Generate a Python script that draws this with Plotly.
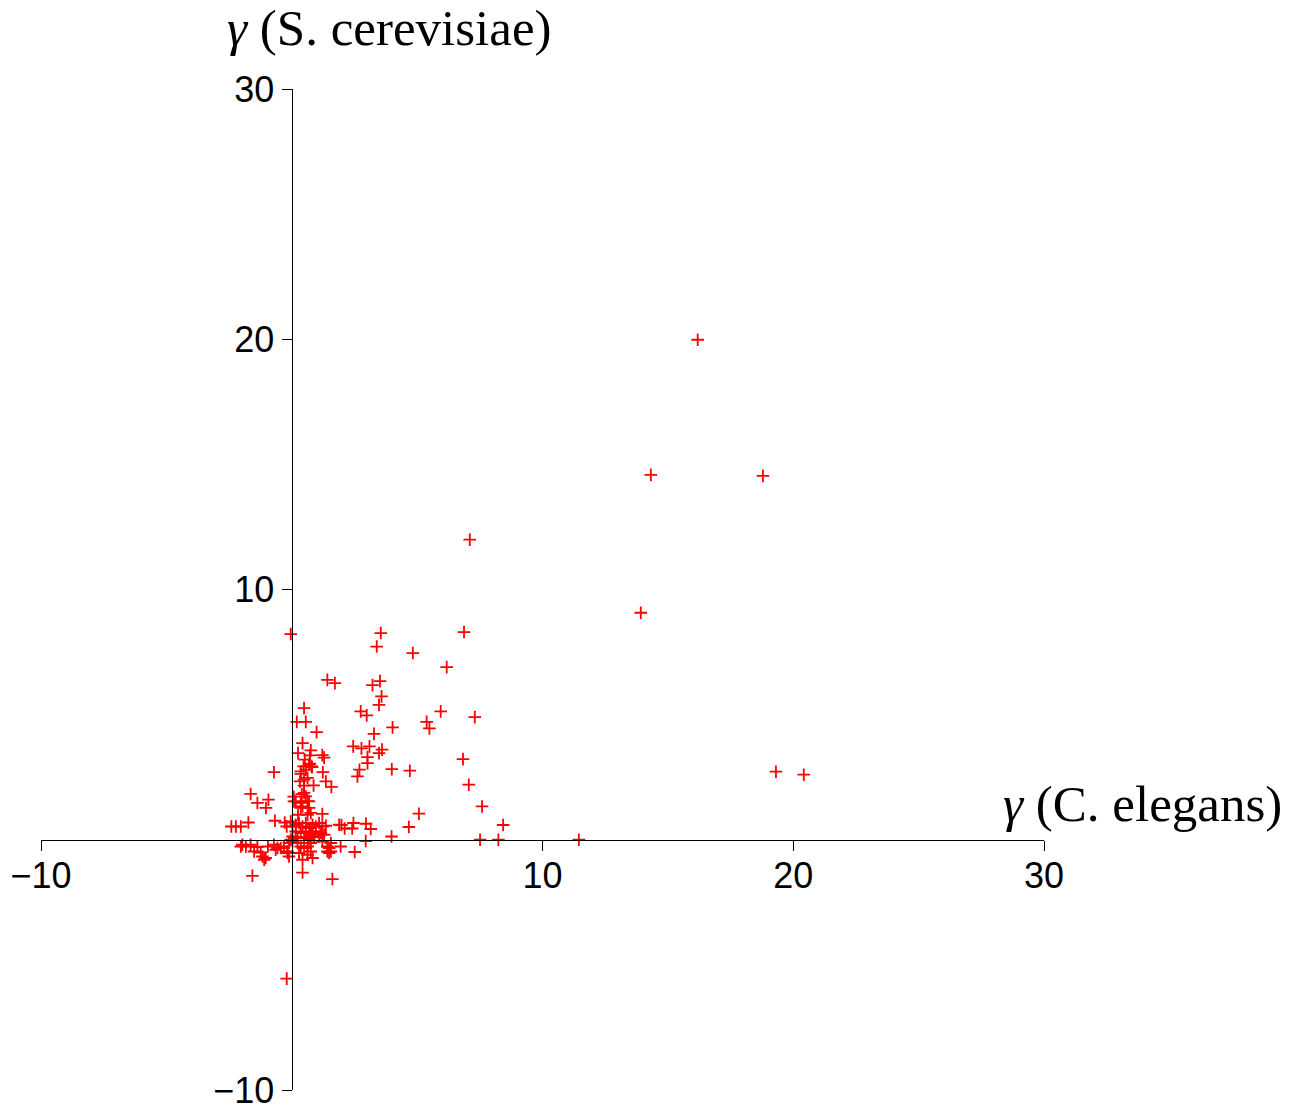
import plotly.graph_objects as go

# Per-gene gamma estimates: C. elegans (x) vs S. cerevisiae (y)
gamma_c_elegans = [
    16.19, 14.32, 18.79, 7.10, 13.92, 19.31, 20.42, 11.45, -0.04, -0.20,
    3.55, 6.87, 3.39, 4.83, 6.18, 1.72, 3.22, 3.52, 3.58, 3.48,
    2.75, 2.99, 5.94, 7.30, 5.38, 5.49, 4.02, 3.28, 2.45, 2.78,
    3.10, 3.60, 3.48, 3.02, 3.02, 2.70, 2.62, 3.99, 4.71, 6.83,
    7.06, 1.58, 7.59, 5.07, 8.43, 1.98, 2.11, 2.46, 2.41, 2.96,
    3.15, 4.67, 3.98, 2.95, 7.51, 8.24, 1.95, 2.51, 1.56,
    1.42, 0.49, 0.20, 0.56, 0.99, 0.43, 0.76, 0.72, 0.25, 1.22,
    1.29, -0.71, 0.52, 0.69, 0.79, 0.47, 0.36, 0.56, 1.24, 1.36,
    0.33, 0.49, 0.63, 0.87, 0.49, 0.56, -1.64, -1.37, -0.93, -1.03,
    0.09, 0.69, 0.36, 0.25, 0.69, 0.76, 1.22, -0.67, -2.41, -2.23,
    -2.03, -1.73, -0.28, -0.20,
    -2.03, -1.97, -1.83, -1.64, -1.50, -1.37, -1.24, -1.17, -1.10, -1.04,
    -0.95, -0.71, -0.57, -0.44, -0.31, -0.17, -0.11, -0.04, 0.03, 0.23,
    0.36, 0.49, 0.63, 0.76, 0.29, 0.63, 0.76, 0.43, 0.83, 1.22,
    1.49, 1.49, 0.43, -1.57, 1.62,
    0.16, 0.36, 0.43, 0.63, 1.89,
    -0.04, 0.03, 0.16, 0.29, 0.43, 0.56, 0.69, 0.83, 0.96, 1.09,
    1.22, 1.36, 0.16, 0.36, 0.56, 0.76, 0.96, 1.16, 0.03, 0.23,
    0.49, 0.69, 0.89, 1.09, 1.29,
    -0.64, -0.11, -0.17, 1.42, 1.42, 1.56,
    0.72, 0.81, 0.36, 0.49, 0.40, 0.63, 0.82, 0.08,
]
gamma_s_cerevisiae = [
    19.98, 14.58, 14.54, 11.99, 9.07, 2.72, 2.60, 0.00, 8.22, -5.55,
    8.26, 8.30, 7.72, 7.46, 6.90, 6.26, 6.18, 6.34, 5.73, 5.39,
    5.13, 4.97, 5.13, 4.90, 4.71, 4.45, 4.49, 4.23, 3.73, 3.65,
    3.73, 3.60, 3.46, 3.30, 3.06, 2.80, 2.53, 2.82, 2.76, 3.22,
    2.20, 2.11, 1.33, 1.04, 0.59, 0.59, 0.45, 0.67, 0.45, 0.64,
    0.43, 0.51, 0.13, -0.05, 0.00, 0.00, -0.27, -0.49, -0.47,
    6.39, 5.26, 4.71, 4.71, 4.30, 3.86, 3.57, 3.37, 3.46, 3.38,
    3.28, 2.70, 3.20, 3.00, 2.93, 2.93, 2.73, 2.80, 2.70, 2.33,
    2.33, 2.40, 2.47, 2.17, 1.87, 1.73, 1.83, 1.47, 1.60, 1.27,
    1.53, 1.53, 1.27, 1.00, 1.27, 1.07, 1.03, 0.76, 0.53, 0.53,
    0.53, 0.69, 0.69, 0.53,
    -0.27, -0.20, -0.27, -0.20, -0.47, -0.29, -0.51, -0.67, -0.80, -0.73,
    -0.27, -0.20, -0.33, -0.33, -0.27, -0.53, -0.67, 0.00, -0.07, -0.13,
    -0.27, -0.33, -0.27, -0.13, -0.53, -0.60, -0.47, -0.80, -0.73, -0.07,
    -0.33, -0.53, -1.31, -1.44, -1.57,
    1.53, 1.47, 1.33, 1.00, 0.60,
    0.73, 0.53, 0.60, 0.67, 0.53, 0.67, 0.47, 0.60, 0.53, 0.67,
    0.53, 0.56, 0.33, 0.27, 0.33, 0.27, 0.33, 0.27, 0.13, 0.07,
    0.11, 0.03, 0.11, 0.13, 0.20,
    -0.40, -0.13, -0.47, -0.47, -0.27, -0.13,
    3.04, 2.90, 2.63, 2.16, 1.82, 1.54, 0.18, 1.72,
]

x_ticks = [-10, 10, 20, 30]
y_ticks = [-10, 10, 20, 30]
tick_text = ["\u221210", "10", "20", "30"]

fig = go.Figure(
    go.Scatter(
        x=gamma_c_elegans,
        y=gamma_s_cerevisiae,
        mode="markers",
        marker=dict(symbol="cross-thin", size=9,
                    line=dict(color="#ff0000", width=1.8), color="#ff0000"),
        hoverinfo="x+y",
        cliponaxis=False,
    )
)

tick_font = dict(family="Liberation Sans, Arial, sans-serif", size=36, color="black")
axis_common = dict(
    showline=True, linecolor="black", linewidth=1.3,
    ticks="outside", ticklen=10, tickwidth=1.2, tickcolor="black",
    showgrid=False, zeroline=False, tickfont=tick_font,
    anchor="free", position=0.25, ticklabeloverflow="allow",
    automargin=False,
)

fig.update_layout(
    width=1305, height=1108,
    margin=dict(l=41, r=261, t=89, b=18),
    paper_bgcolor="white", plot_bgcolor="white",
    showlegend=False,
    xaxis=dict(range=[-10, 30], tickvals=x_ticks, ticktext=tick_text,
               ticklabelstandoff=-6, **axis_common),
    yaxis=dict(range=[-10, 30], tickvals=y_ticks, ticktext=tick_text,
               **axis_common),
    annotations=[
        dict(text="<i>\u03b3</i> (S. cerevisiae)", xref="paper", yref="paper",
             x=0.183, y=1.061, xanchor="left", yanchor="middle", showarrow=False,
             font=dict(family="Liberation Serif, serif", size=51, color="black")),
        dict(text="<i>\u03b3</i> (C. elegans)", xref="paper", yref="paper",
             x=0.957, y=0.286, xanchor="left", yanchor="middle", showarrow=False,
             font=dict(family="Liberation Serif, serif", size=51, color="black")),
    ],
)

fig.write_html("out.html")
